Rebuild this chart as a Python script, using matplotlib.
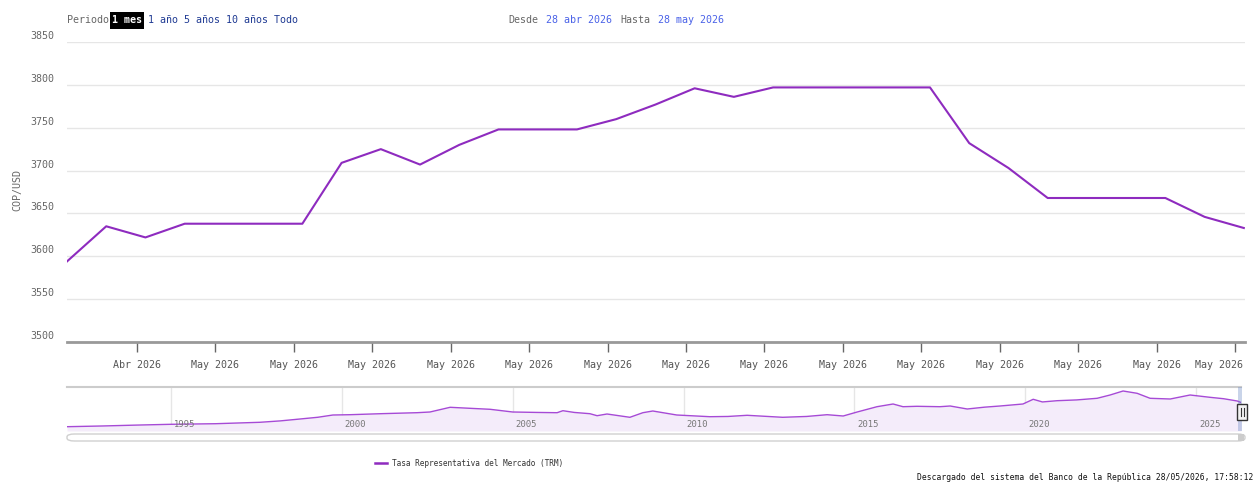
import matplotlib
matplotlib.use("Agg")
import matplotlib.pyplot as plt
import numpy as np
from matplotlib.patches import Rectangle, FancyBboxPatch
import matplotlib.transforms as mtransforms

# ---------------- data ----------------
day_index = list(range(31))  # 28 abr 2026 .. 28 may 2026
trm_values = [3594, 3635, 3622, 3638, 3638, 3638, 3638, 3709, 3725, 3707,
              3730, 3748, 3748, 3748, 3760, 3777, 3796, 3786, 3797, 3797,
              3797, 3797, 3797, 3732, 3703, 3668, 3668, 3668, 3668, 3646,
              3633]
x_tick_pos = [1.78 + 2 * k for k in range(15)]
x_tick_labels = ["Abr 2026"] + ["May 2026"] * 14
y_ticks = [3500, 3550, 3600, 3650, 3700, 3750, 3800, 3850]

nav_years = [1991.96, 1993.0, 1994.0, 1995.0, 1996.3, 1997.6, 1998.2, 1998.78,
             1999.3, 1999.74, 2000.24, 2001.2, 2002.2, 2002.58, 2003.17,
             2003.75, 2004.34, 2005.0, 2005.7, 2006.3, 2006.47, 2006.8,
             2007.26, 2007.47, 2007.76, 2008.43, 2008.81, 2009.1, 2009.8,
             2010.77, 2011.3, 2011.86, 2012.9, 2013.6, 2014.2, 2014.67,
             2015.08, 2015.66, 2016.13, 2016.42, 2016.83, 2017.5, 2017.8,
             2018.3, 2018.8, 2019.26, 2019.93, 2020.23, 2020.5, 2020.93,
             2021.5, 2022.1, 2022.48, 2022.86, 2023.27, 2023.65, 2024.24,
             2024.82, 2025.4, 2025.8, 2026.2, 2026.31]
nav_values = [630, 720, 830, 928, 1000, 1176, 1350, 1585,
              1800, 2080, 2118, 2250, 2366, 2453, 3036,
              2912, 2788, 2453, 2400, 2366, 2614, 2400,
              2242, 1994, 2205, 1796, 2366, 2577, 2081,
              1870, 1900, 2044, 1796, 1900, 2118, 1957,
              2453, 3110, 3445, 3110, 3160, 3110, 3197,
              2825, 3050, 3197, 3445, 4028, 3700, 3854,
              3950, 4152, 4561, 5057, 4772, 4152, 4065,
              4561, 4276, 4100, 3817, 3633]
nav_year_ticks = [1995, 2000, 2005, 2010, 2015, 2020, 2025]

# ---------------- style ----------------
W, H = 1255, 482
DPI = 100
LINE = "#8e2bbf"
MONO = "DejaVu Sans Mono"
plt.rcParams["font.family"] = [MONO, "DejaVu Sans"]

fig = plt.figure(figsize=(W / DPI, H / DPI), dpi=DPI)
fig.patch.set_facecolor("white")

def fx(px):
    return px / W

def fy(py):
    return 1 - py / H

# ---------------- main axes ----------------
ax = fig.add_axes([fx(67), fy(342), fx(1245 - 67), (342 - 42) / H])
ax.plot(day_index, trm_values, color=LINE, lw=1.5, solid_joinstyle="round")
ax.set_xlim(0, 30.03)
ax.set_ylim(3500, 3850)
ax.set_yticks(y_ticks)
ax.yaxis.grid(True, color="#e6e6e6", lw=1)
ax.set_axisbelow(True)
ax.tick_params(axis="y", length=0, labelleft=False)
for v in y_ticks:
    trans = mtransforms.offset_copy(ax.get_yaxis_transform(), fig=fig, x=-13, y=6, units="dots")
    ax.text(0, v, str(v), transform=trans, ha="right", va="center",
            fontsize=7.2, color="#666666", family=MONO)
ax.set_xticks(x_tick_pos)
ax.set_xticklabels(x_tick_labels, fontsize=7.2, color="#555555", family=MONO)
ax.tick_params(axis="x", length=7, width=1, color="#666666", pad=6)
last = ax.get_xticklabels()[-1]
last.set_horizontalalignment("right")
last.set_transform(last.get_transform() +
                   mtransforms.ScaledTranslation(8 / DPI, 0, fig.dpi_scale_trans))
for s in ["top", "right", "left"]:
    ax.spines[s].set_visible(False)
ax.spines["bottom"].set_color("#999999")
ax.spines["bottom"].set_linewidth(2)
ax.set_facecolor("white")

fig.text(fx(17), fy(190), "COP/USD", rotation=90, ha="center", va="center",
         fontsize=7.2, color="#666666", family=MONO)

# ---------------- navigator ----------------
nav = fig.add_axes([fx(67), fy(431), fx(1241 - 67), 44 / H])
nav.fill_between(nav_years, nav_values, 97, color="#f4ecfa", lw=0)
nav.plot(nav_years, nav_values, color="#a64ad6", lw=1)
nav.set_xlim(1991.96, 2026.31)
nav.set_ylim(97, 5553)
nav.set_xticks(nav_year_ticks)
nav.xaxis.grid(True, color="#e6e6e6", lw=1)
nav.set_axisbelow(True)
nav.tick_params(length=0, labelbottom=False, labelleft=False)
nav.set_yticks([])
for yr in nav_year_ticks:
    tr = mtransforms.offset_copy(nav.get_xaxis_transform(), fig=fig, x=3, y=0, units="dots")
    nav.text(yr, 0.15, str(yr), transform=tr, ha="left", va="center",
             fontsize=6.4, color="#777777", family=MONO)
for s in ["right", "left", "bottom"]:
    nav.spines[s].set_visible(False)
nav.spines["top"].set_color("#cccccc")
nav.spines["top"].set_linewidth(1.5)
nav.set_facecolor("white")

# selected range and handle
fig.patches.append(Rectangle((fx(1238), fy(431)), fx(4), 44 / H, transform=fig.transFigure,
                             facecolor="#6685c2", alpha=0.35, lw=0))
fig.patches.append(Rectangle((fx(1237), fy(420)), fx(10), 16 / H, transform=fig.transFigure,
                             facecolor="#f2f2f2", edgecolor="#333333", lw=1))
for xx in (1240.5, 1243.5):
    fig.lines.append(plt.Line2D([fx(xx), fx(xx)], [fy(416), fy(408)], transform=fig.transFigure,
                                color="#333333", lw=0.8))

# scrollbar
fig.patches.append(FancyBboxPatch((fx(67), fy(441)), fx(1245 - 67), 7 / H,
                                  boxstyle="round,pad=0,rounding_size=0.006",
                                  transform=fig.transFigure, facecolor="white",
                                  edgecolor="#d0d0d0", lw=1))
fig.patches.append(Rectangle((fx(1238), fy(441)), fx(6), 7 / H, transform=fig.transFigure,
                             facecolor="#cccccc", lw=0))

# ---------------- header ----------------
hs = 7.2
fig.text(fx(67), fy(20), "Periodo", ha="left", va="center", fontsize=hs, color="#666666", family=MONO)
fig.patches.append(Rectangle((fx(110), fy(29)), fx(34), 17 / H, transform=fig.transFigure,
                             facecolor="black", lw=0))
fig.text(fx(127), fy(20), "1 mes", ha="center", va="center", fontsize=hs, color="white",
         family=MONO, fontweight="bold")
fig.text(fx(148), fy(20), "1 año 5 años 10 años Todo", ha="left", va="center",
         fontsize=hs, color="#1f3a93", family=MONO)
fig.text(fx(508), fy(20), "Desde", ha="left", va="center", fontsize=hs, color="#666666", family=MONO)
fig.text(fx(546), fy(20), "28 abr 2026", ha="left", va="center", fontsize=hs, color="#4a62e8", family=MONO)
fig.text(fx(620), fy(20), "Hasta", ha="left", va="center", fontsize=hs, color="#666666", family=MONO)
fig.text(fx(658), fy(20), "28 may 2026", ha="left", va="center", fontsize=hs, color="#4a62e8", family=MONO)

# ---------------- legend & footer ----------------
fig.lines.append(plt.Line2D([fx(375), fx(387)], [fy(463), fy(463)], transform=fig.transFigure,
                            color=LINE, lw=1.8))
fig.text(fx(392), fy(463), "Tasa Representativa del Mercado (TRM)", ha="left", va="center",
         fontsize=5.6, color="#333333", family=MONO)
fig.text(fx(1253), fy(477), "Descargado del sistema del Banco de la República 28/05/2026, 17:58:12",
         ha="right", va="center", fontsize=5.8, color="#111111", family=MONO)

fig.savefig("out.png", dpi=DPI, facecolor="white")
